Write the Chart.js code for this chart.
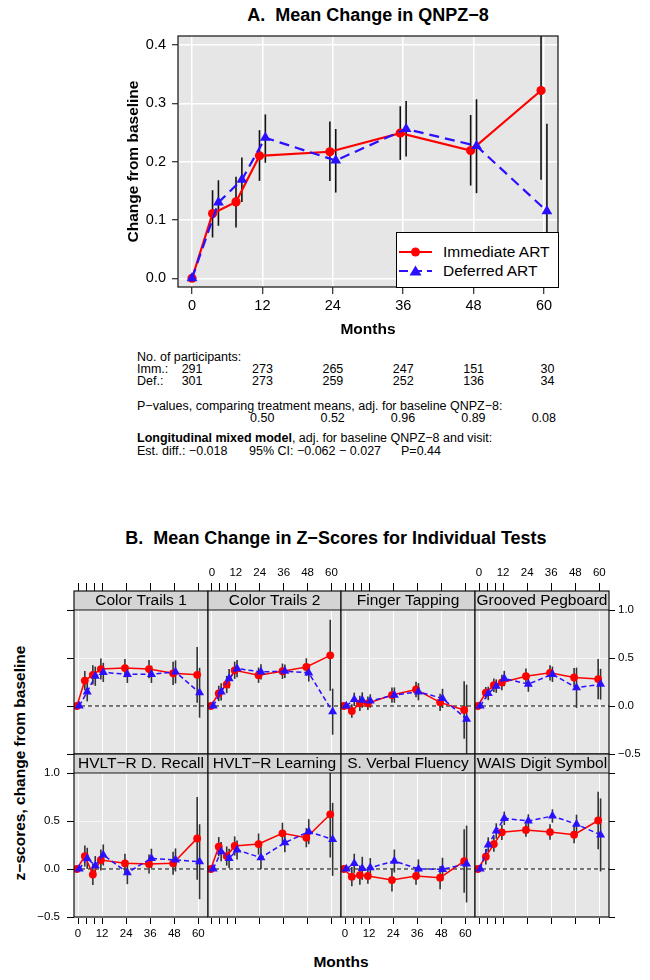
<!DOCTYPE html>
<html><head><meta charset="utf-8">
<script src="https://cdn.jsdelivr.net/npm/chart.js@4.4.1/dist/chart.umd.min.js"></script>
<style>
html,body{margin:0;padding:0;background:#fff;}
body{width:650px;height:980px;position:relative;overflow:hidden;font-family:'Liberation Sans',Arial,Helvetica,sans-serif;color:#000;}
canvas{position:absolute;}
.t{position:absolute;white-space:pre;font-size:12.5px;line-height:13px;}
.r{text-align:right;width:80px;}
.ttl{position:absolute;white-space:pre;font-weight:bold;font-size:18px;line-height:20px;text-align:center;}
.lab{position:absolute;white-space:pre;font-weight:bold;font-size:15.5px;line-height:18px;text-align:center;}
#legA{position:absolute;left:396px;top:232px;width:163px;height:56px;box-sizing:border-box;background:#fff;border:1px solid #000;}
#legA .row{position:absolute;left:0;height:18px;width:160px;}
#legA svg{position:absolute;left:1px;top:2px;}
#legA span{position:absolute;left:46px;top:0;font-size:15.5px;line-height:18px;white-space:pre;}
</style></head>
<body>
<div class="ttl" style="left:118px;top:5px;width:500px;">A.  Mean Change in QNPZ−8</div>
<canvas id="cA" width="650" height="345" style="left:0;top:0;width:650px;height:345px;"></canvas>
<div id="legA">
  <div class="row" style="top:10px;"><svg width="36" height="14"><line x1="1" y1="7" x2="34" y2="7" stroke="#ff0000" stroke-width="2"/><circle cx="17.5" cy="7" r="4.5" fill="#ff0000"/></svg><span>Immediate ART</span></div>
  <div class="row" style="top:29px;"><svg width="36" height="14"><line x1="1" y1="7" x2="34" y2="7" stroke="#2b0fff" stroke-width="2" stroke-dasharray="9,5"/><polygon points="17.5,1.5 23.5,11.5 11.5,11.5" fill="#2b0fff"/></svg><span>Deferred ART</span></div>
</div>
<div id="txtA"></div>
<div class="ttl" style="left:86px;top:528px;width:500px;">B.  Mean Change in Z−Scores for Individual Tests</div>
<div class="lab" style="left:-130px;top:754px;width:300px;transform:rotate(-90deg);">z−scores, change from baseline</div>
<div class="lab" style="left:241px;top:953px;width:200px;">Months</div>
<script>
// ---------------- shared ----------------
const months = [0, 4, 8, 12, 24, 36, 48, 60];
const RED = '#ff0000';
const BLUE = '#2b0fff';

// ---------------- Panel A data (QNPZ-8) ----------------
const qnpzImm   = [0, 0.111, 0.131, 0.210, 0.217, 0.249, 0.219, 0.322];
const qnpzImmLo = [0, 0.070, 0.087, 0.167, 0.167, 0.203, 0.159, 0.169];
const qnpzImmHi = [0, 0.151, 0.174, 0.254, 0.269, 0.295, 0.280, 0.475];
const qnpzDef   = [0, 0.130, 0.169, 0.241, 0.202, 0.256, 0.227, 0.115];
const qnpzDefLo = [0, 0.090, 0.131, 0.198, 0.147, 0.209, 0.146, -0.035];
const qnpzDefHi = [0, 0.168, 0.207, 0.281, 0.256, 0.304, 0.307, 0.265];
const aTickMonths = [0, 12, 24, 36, 48, 60];
const aYTicks = [0, 0.1, 0.2, 0.3, 0.4];

// participants / p-values table
const nMonths = [0, 12, 24, 36, 48, 60];
const nImm = [291, 273, 265, 247, 151, 30];
const nDef = [301, 273, 259, 252, 136, 34];
const pMonths = [12, 24, 36, 48, 60];
const pValues = ['0.50', '0.52', '0.96', '0.89', '0.08'];

// ---------------- Panel B data (z-scores) ----------------
const tests = ['Color Trails 1', 'Color Trails 2', 'Finger Tapping', 'Grooved Pegboard',
               'HVLT−R D. Recall', 'HVLT−R Learning', 'S. Verbal Fluency', 'WAIS Digit Symbol'];
const zImm = [
  [0, 0.265, 0.325, 0.385, 0.395, 0.385, 0.340, 0.325],
  [0, 0.131, 0.224, 0.372, 0.321, 0.362, 0.407, 0.528],
  [0, -0.052, 0.028, 0.028, 0.114, 0.172, 0.038, -0.041],
  [0, 0.138, 0.217, 0.245, 0.310, 0.345, 0.297, 0.280],
  [0, 0.135, -0.056, 0.094, 0.059, 0.052, 0.059, 0.319],
  [0, 0.233, 0.135, 0.240, 0.260, 0.372, 0.326, 0.570],
  [0, -0.080, -0.063, -0.073, -0.115, -0.073, -0.090, 0.083],
  [0, 0.128, 0.260, 0.382, 0.406, 0.385, 0.358, 0.505]
];
const zImmErr = [
  [0, 0.10, 0.10, 0.11, 0.095, 0.095, 0.12, 0.29],
  [0, 0.08, 0.09, 0.09, 0.08, 0.08, 0.09, 0.37],
  [0, 0.07, 0.08, 0.07, 0.08, 0.08, 0.09, 0.30],
  [0, 0.06, 0.07, 0.08, 0.08, 0.08, 0.10, 0.21],
  [0, 0.11, 0.11, 0.11, 0.10, 0.10, 0.12, 0.43],
  [0, 0.10, 0.10, 0.10, 0.11, 0.11, 0.10, 0.45],
  [0, 0.10, 0.10, 0.08, 0.12, 0.09, 0.12, 0.33],
  [0, 0.08, 0.08, 0.08, 0.07, 0.08, 0.09, 0.30]
];
const zDef = [
  [0, 0.148, 0.310, 0.350, 0.330, 0.330, 0.355, 0.138],
  [0, 0.148, 0.286, 0.390, 0.355, 0.362, 0.345, -0.059],
  [0, 0.069, 0.062, 0.052, 0.114, 0.148, 0.079, -0.138],
  [0, 0.131, 0.207, 0.286, 0.228, 0.330, 0.190, 0.227],
  [0, 0.111, 0.035, 0.146, -0.038, 0.111, 0.094, 0.076],
  [0, 0.180, 0.111, 0.198, 0.118, 0.274, 0.389, 0.309],
  [0, 0.059, 0.007, 0.014, 0.083, 0, -0.003, 0.052],
  [0, 0.250, 0.396, 0.528, 0.500, 0.552, 0.466, 0.355]
];
const zDefErr = [
  [0, 0.10, 0.10, 0.10, 0.09, 0.09, 0.12, 0.26],
  [0, 0.09, 0.10, 0.09, 0.08, 0.07, 0.09, 0.24],
  [0, 0.07, 0.08, 0.07, 0.08, 0.09, 0.10, 0.36],
  [0, 0.07, 0.07, 0.08, 0.08, 0.08, 0.21, 0.16],
  [0, 0.11, 0.10, 0.11, 0.12, 0.10, 0.12, 0.39],
  [0, 0.10, 0.10, 0.10, 0.12, 0.10, 0.13, 0.38],
  [0, 0.10, 0.12, 0.10, 0.12, 0.10, 0.12, 0.40],
  [0, 0.08, 0.08, 0.07, 0.07, 0.07, 0.10, 0.38]
];
const bTickMonths = [0, 4, 8, 12, 24, 36, 48, 60];
const bLabelMonths = [0, 12, 24, 36, 48, 60];
const bYTicks = [-0.5, 0, 0.5, 1.0];

// ---------------- common setup ----------------
Chart.defaults.font.family = "'Liberation Sans', Arial, Helvetica, sans-serif";
Chart.defaults.color = '#000';
Chart.defaults.animation = false;
const fmtY = v => (v < 0 ? '\u2212' : '') + Math.abs(v).toFixed(1);

function fillArea(bg) {
  return {
    id: 'bg',
    beforeDraw(chart) {
      const a = chart.chartArea, c = chart.ctx;
      c.save(); c.fillStyle = bg; c.fillRect(a.left, a.top, a.right - a.left, a.bottom - a.top); c.restore();
    }
  };
}

// ---------------- Chart A ----------------
const JA = 0.5;
const jitA = (m, s) => m === 0 ? 0 : s * JA;
const errA = (lo, hi, s) => months.map((m, i) => ({x: m + jitA(m, s), y: [lo[i], hi[i]]})).filter((p, i) => hi[i] !== lo[i]);

const chartA = new Chart(document.getElementById('cA'), {
  type: 'line',
  data: {
    datasets: [
      {type: 'line', label: 'Deferred ART', data: months.map((m, i) => ({x: m + jitA(m, 1), y: qnpzDef[i]})),
       borderColor: BLUE, borderWidth: 2.2, borderDash: [10, 6], pointStyle: 'triangle', pointRadius: 6.2,
       pointBackgroundColor: BLUE, pointBorderColor: BLUE, pointBorderWidth: 0, order: 0},
      {type: 'line', label: 'Immediate ART', data: months.map((m, i) => ({x: m + jitA(m, -1), y: qnpzImm[i]})),
       borderColor: RED, borderWidth: 2.2, pointStyle: 'circle', pointRadius: 4.6,
       pointBackgroundColor: RED, pointBorderColor: RED, pointBorderWidth: 0, order: 1},
      {type: 'bar', data: errA(qnpzImmLo, qnpzImmHi, -1), backgroundColor: '#111', inflateAmount: 0,
       barThickness: 1.6, maxBarThickness: 1.6, grouped: false, order: 2},
      {type: 'bar', data: errA(qnpzDefLo, qnpzDefHi, 1), backgroundColor: '#111', inflateAmount: 0,
       barThickness: 1.6, maxBarThickness: 1.6, grouped: false, order: 2}
    ]
  },
  options: {
    responsive: false, animation: false,
    layout: {padding: {left: 124, top: 36, right: 92, bottom: 6}},
    plugins: {legend: {display: false}, tooltip: {enabled: false}, title: {display: false}},
    scales: {
      x: {type: 'linear', position: 'bottom', min: -2.39, max: 62.39, offset: false,
          afterBuildTicks: s => { s.ticks = aTickMonths.map(v => ({value: v})); },
          afterFit: s => { s.height = 52; },
          grid: {color: '#ffffff', lineWidth: 1.5, drawTicks: true, tickLength: 7, tickColor: '#000', tickWidth: 1, offset: false},
          border: {display: false},
          ticks: {font: {size: 14.5}, color: '#000', padding: 3, maxRotation: 0, autoSkip: false, callback: v => String(v)},
          title: {display: true, text: 'Months', font: {size: 15.5, weight: 'bold'}, color: '#000', padding: 0}},
      y: {type: 'linear', position: 'left', min: -0.015, max: 0.4155,
          afterBuildTicks: s => { s.ticks = aYTicks.map(v => ({value: v})); },
          afterFit: s => { s.width = 54; },
          grid: {color: '#ffffff', lineWidth: 1.5, drawTicks: true, tickLength: 6, tickColor: '#000', tickWidth: 1},
          border: {display: false},
          ticks: {font: {size: 14.5}, color: '#000', padding: 6, callback: v => v.toFixed(1)},
          title: {display: true, text: 'Change from baseline', font: {size: 15.5, weight: 'bold'}, color: '#000', padding: 0}}
    }
  },
  plugins: [fillArea('#e6e6e6'), {
    id: 'frameA',
    afterDraw(chart) {
      const a = chart.chartArea, c = chart.ctx;
      c.save(); c.strokeStyle = '#222'; c.lineWidth = 1.3;
      c.strokeRect(a.left, a.top, a.right - a.left, a.bottom - a.top); c.restore();
    }
  }]
});

// ---------------- text block under A ----------------
(function () {
  const box = document.getElementById('txtA');
  const xs = chartA.scales.x;
  const add = (html, left, cy, cls) => {
    const d = document.createElement('div');
    d.className = 't' + (cls ? ' ' + cls : '');
    d.style.left = left + 'px'; d.style.top = (cy - 6.5) + 'px';
    d.innerHTML = html; box.appendChild(d);
  };
  const X0 = 137;
  const Y = [357, 369, 381, 406.5, 418.5, 438.5, 451];
  add('No. of participants:', X0, Y[0]);
  add('Imm.:', X0, Y[1]);
  add('Def.:', X0, Y[2]);
  nMonths.forEach((m, i) => {
    const px = xs.getPixelForValue(m);
    add(String(nImm[i]), px + 10.5 - 80, Y[1], 'r');
    add(String(nDef[i]), px + 10.5 - 80, Y[2], 'r');
  });
  add('P−values, comparing treatment means, adj. for baseline QNPZ−8:', X0, Y[3]);
  pMonths.forEach((m, i) => {
    const px = xs.getPixelForValue(m);
    add(pValues[i], px + 12 - 80, Y[4], 'r');
  });
  add('<b>Longitudinal mixed model</b>, adj. for baseline QNPZ−8 and visit:', X0, Y[5]);
  add('Est. diff.: −0.018', X0, Y[6]);
  add('95% CI: −0.062 − 0.027', 249, Y[6]);
  add('P=0.44', 401, Y[6]);
})();

// ---------------- Panel B (lattice) ----------------
const COLS = [74, 208, 341, 475, 609];
const ROW_STRIP_TOP = [591, 754];
const STRIP_H = 19, PLOT_H = 144;
const M = 50, T = 30, B = 40;
const JB = 0.6;

tests.forEach((name, idx) => {
  const col = idx % 4, row = Math.floor(idx / 4);
  const L = COLS[col], w = COLS[col + 1] - L;
  const W = w + 2 * M, H = T + STRIP_H + PLOT_H + B;
  const cv = document.createElement('canvas');
  cv.width = W; cv.height = H;
  cv.style.left = (L - M) + 'px'; cv.style.top = (ROW_STRIP_TOP[row] - T) + 'px';
  cv.style.width = W + 'px'; cv.style.height = H + 'px';
  document.body.appendChild(cv);

  const imm = zImm[idx], ie = zImmErr[idx], def = zDef[idx], de = zDefErr[idx];
  const errData = (vals, err, s) => months.map((m, i) => ({x: m + s * JB, y: [vals[i] - err[i], vals[i] + err[i]]})).filter((p, i) => err[i] > 0);

  const topTicks = row === 0;
  const topLabels = row === 0 && (col === 1 || col === 3);
  const botTicks = row === 1;
  const botLabels = row === 1 && (col === 0 || col === 2);
  const leftTicks = col === 0, leftLabels = col === 0 && row === 1;
  const rightTicks = col === 3, rightLabels = col === 3 && row === 0;
  const tickFn = s => { s.ticks = bTickMonths.map(v => ({value: v})); };
  const yTickFn = s => { s.ticks = bYTicks.map(v => ({value: v})); };
  const xLabel = v => bLabelMonths.includes(v) ? String(v) : '';

  new Chart(cv, {
    type: 'line',
    data: {
      datasets: [
        {type: 'line', data: months.map((m, i) => ({x: m + JB, y: def[i]})), xAxisID: 'x', yAxisID: 'y',
         borderColor: BLUE, borderWidth: 1.5, borderDash: [5, 3], pointStyle: 'triangle', pointRadius: 5.2,
         pointBackgroundColor: BLUE, pointBorderColor: BLUE, pointBorderWidth: 0, order: 0},
        {type: 'line', data: months.map((m, i) => ({x: m - JB, y: imm[i]})), xAxisID: 'x', yAxisID: 'y',
         borderColor: RED, borderWidth: 1.5, pointStyle: 'circle', pointRadius: 3.9,
         pointBackgroundColor: RED, pointBorderColor: RED, pointBorderWidth: 0, order: 1},
        {type: 'bar', data: errData(imm, ie, -1), xAxisID: 'x', yAxisID: 'y', backgroundColor: '#333', inflateAmount: 0,
         barThickness: 1.6, maxBarThickness: 1.6, grouped: false, order: 2},
        {type: 'bar', data: errData(def, de, 1), xAxisID: 'x', yAxisID: 'y', backgroundColor: '#333', inflateAmount: 0,
         barThickness: 1.6, maxBarThickness: 1.6, grouped: false, order: 2}
      ]
    },
    options: {
      responsive: false, animation: false,
      layout: {padding: 0},
      plugins: {legend: {display: false}, tooltip: {enabled: false}, title: {display: false}},
      scales: {
        x: {type: 'linear', position: 'bottom', min: -2, max: 64.8, offset: false,
            afterBuildTicks: tickFn, afterFit: s => { s.height = B; },
            grid: {color: c => (c.tick && bLabelMonths.includes(c.tick.value)) ? '#ffffff' : 'rgba(0,0,0,0)',
                   lineWidth: 1, drawTicks: botTicks, tickLength: 7, tickColor: '#000', tickWidth: 1, offset: false},
            border: {display: false},
            ticks: {display: botLabels, font: {size: 11.5}, color: '#000', padding: 3, maxRotation: 0, autoSkip: false, callback: xLabel}},
        xt: {type: 'linear', position: 'top', min: -2, max: 64.8, offset: false,
            afterBuildTicks: tickFn, afterFit: s => { s.height = T + STRIP_H; },
            grid: {display: topTicks, drawOnChartArea: false, drawTicks: topTicks, tickLength: STRIP_H + 8, tickColor: '#000', tickWidth: 1, offset: false},
            border: {display: false},
            ticks: {display: topLabels, font: {size: 11.5}, color: '#000', padding: 3, maxRotation: 0, autoSkip: false, callback: xLabel}},
        y: {type: 'linear', position: 'left', min: -0.5, max: 1.0,
            afterBuildTicks: yTickFn, afterFit: s => { s.width = M; },
            grid: {color: '#f6f6f6', lineWidth: 1, drawTicks: leftTicks, tickLength: 7, tickColor: '#000', tickWidth: 1},
            border: {display: false},
            ticks: {display: leftLabels, font: {size: 11.5}, color: '#000', padding: 7, callback: fmtY}},
        yr: {type: 'linear', position: 'right', min: -0.5, max: 1.0,
            afterBuildTicks: yTickFn, afterFit: s => { s.width = M; },
            grid: {display: rightTicks, drawOnChartArea: false, drawTicks: rightTicks, tickLength: 6, tickColor: '#000', tickWidth: 1},
            border: {display: false},
            ticks: {display: rightLabels, font: {size: 11.5}, color: '#000', padding: 3, callback: fmtY}}
      }
    },
    plugins: [fillArea('#e6e6e6'), {
      id: 'lattice',
      beforeDatasetsDraw(chart) {
        const a = chart.chartArea, c = chart.ctx, y0 = chart.scales.y.getPixelForValue(0);
        c.save(); c.strokeStyle = '#000'; c.lineWidth = 1; c.setLineDash([4, 3]);
        c.beginPath(); c.moveTo(a.left, y0); c.lineTo(a.right, y0); c.stroke(); c.restore();
      },
      afterDraw(chart) {
        const a = chart.chartArea, c = chart.ctx;
        c.save();
        c.fillStyle = '#d4d4d4';
        c.fillRect(a.left, a.top - STRIP_H, a.right - a.left, STRIP_H);
        c.strokeStyle = '#111'; c.lineWidth = 1.2;
        c.strokeRect(a.left, a.top - STRIP_H, a.right - a.left, STRIP_H + (a.bottom - a.top));
        c.beginPath(); c.moveTo(a.left, a.top); c.lineTo(a.right, a.top); c.stroke();
        c.fillStyle = '#000'; c.font = "15.5px 'Liberation Sans', Arial, sans-serif";
        c.textAlign = 'center'; c.textBaseline = 'middle';
        c.fillText(name, (a.left + a.right) / 2, a.top - STRIP_H / 2 + 0.5);
        c.restore();
      }
    }]
  });
});
</script>
</body></html>
